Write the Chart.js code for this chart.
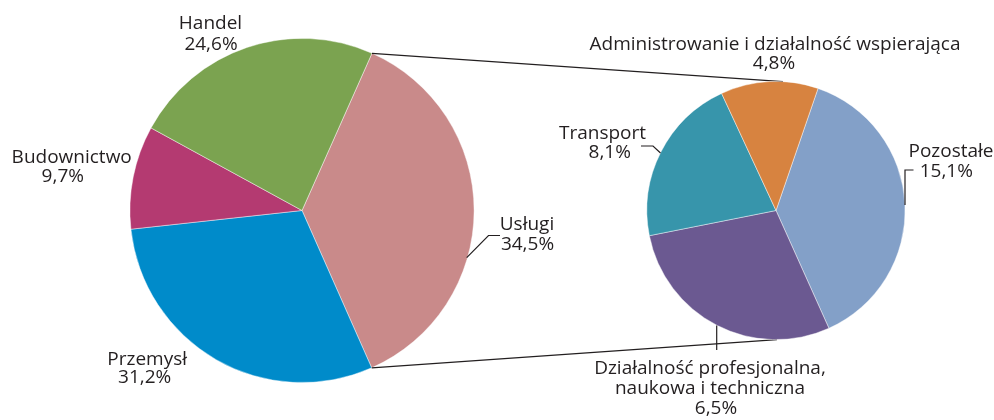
<!DOCTYPE html>
<html>
<head>
<meta charset="utf-8">
<script src="https://cdn.jsdelivr.net/npm/chart.js@4.4.1/dist/chart.umd.min.js"></script>
<style>
  html, body { margin: 0; padding: 0; background: #ffffff; }
  #wrap { position: relative; width: 994px; height: 420px; overflow: hidden; background: #ffffff; }
  #wrap canvas { position: absolute; left: 0; top: 0; }
</style>
</head>
<body>
<div id="wrap">
  <canvas id="mainPie" width="994" height="420"></canvas>
  <canvas id="subPie" width="994" height="420"></canvas>
</div>
<script>
// ---------- DATA ----------
// Main pie (sectors of the economy)
const mainCategories = ['Usługi', 'Przemysł', 'Budownictwo', 'Handel'];
const mainPercentText = ['34,5%', '31,2%', '9,7%', '24,6%'];
// angular shares of the drawn slices
const mainSliceShares = [36.7, 29.9, 9.7, 23.7];

// Breakdown pie (services)
const subCategories = ['Pozostałe', 'Działalność profesjonalna, naukowa i techniczna', 'Transport', 'Administrowanie i działalność wspierająca'];
const subPercentText = ['15,1%', '6,5%', '8,1%', '4,8%'];
// angular shares of the drawn slices
const subSliceShares = [38.0, 28.6, 21.2, 12.2];

// ---------- STYLE / LAYOUT ----------
const mainColors = ['#C98A8A', '#008BCA', '#B43A71', '#7BA350'];
const subColors = ['#83A0C8', '#6B5991', '#3795AB', '#D78340'];
const textColor = '#231F20';
const lineColor = '#231F20';
const fontSpec = '19px "Open Sans", "DejaVu Sans", sans-serif';

// label lines: [category index, kind, dx, dy] relative to the pie centre (baseline, centred)
const mainLabelLayout = [
  [[0, 'name', 225, 19.5], [0, 'pct', 225.5, 39]],
  [[1, 'name', -154.8, 154], [1, 'pct', -157.3, 172.5]],
  [[2, 'name', -230.3, -47.2], [2, 'pct', -239.2, -28.2]],
  [[3, 'name', -91.5, -181.5], [3, 'pct', -91, -160.5]]
];
const mainLeaders = [
  [[164.7, 47.2], [186.5, 25], [198, 25]]
];
const subLabelLayout = [
  [[0, 'name', 175, -53.5], [0, 'pct', 170.3, -33.5]],
  [[1, 'line0', -66, 163.5], [1, 'line1', -66, 183.5], [1, 'pct', -60, 203.5]],
  [[2, 'name', -173.5, -72], [2, 'pct', -166.3, -52.2]],
  [[3, 'name', -1, -160.5], [3, 'pct', -2, -141.5]]
];
const subLeaders = [
  [[137.5, -40.5], [129, -40.5], [129, -5.5]],
  [[-59.3, 115.1], [-59.3, 139.5]],
  [[-135, -64.5], [-123, -64.5], [-115.5, -57.5]]
];

function labelText(cats, pcts, idx, kind) {
  if (kind === 'pct') return pcts[idx];
  if (kind === 'name') return cats[idx];
  const parts = cats[idx].split(', ');
  if (kind === 'line0') return parts[0] + ',';
  return parts.slice(1).join(', ');
}

function drawLabels(chart, cats, pcts, layout, leaders) {
  const arc = chart.getDatasetMeta(0).data[0];
  const cx = arc.x, cy = arc.y;
  const ctx = chart.ctx;
  ctx.save();
  ctx.font = fontSpec;
  ctx.fillStyle = textColor;
  ctx.textAlign = 'center';
  ctx.textBaseline = 'alphabetic';
  layout.forEach(lines => lines.forEach(([i, kind, dx, dy]) => {
    ctx.fillText(labelText(cats, pcts, i, kind), cx + dx, cy + dy);
  }));
  ctx.strokeStyle = lineColor;
  ctx.lineWidth = 1.2;
  leaders.forEach(pts => {
    ctx.beginPath();
    pts.forEach(([dx, dy], k) => {
      if (k === 0) ctx.moveTo(cx + dx, cy + dy); else ctx.lineTo(cx + dx, cy + dy);
    });
    ctx.stroke();
  });
  ctx.restore();
}

function pieConfig(cats, shares, colors, rotation, padding, plugins) {
  return {
    type: 'pie',
    data: {
      labels: cats,
      datasets: [{
        data: shares,
        backgroundColor: colors,
        borderColor: 'rgba(255,255,255,0.55)',
        borderWidth: 0.8,
        hoverOffset: 0
      }]
    },
    options: {
      responsive: false,
      maintainAspectRatio: false,
      animation: false,
      rotation: rotation,
      layout: { padding: padding },
      events: [],
      plugins: { legend: { display: false }, tooltip: { enabled: false } }
    },
    plugins: plugins
  };
}

const mainChart = new Chart(document.getElementById('mainPie'), pieConfig(
  mainCategories, mainSliceShares, mainColors, 24.0,
  { left: 129.5, right: 519.5, top: 38, bottom: 37 },
  [{ id: 'mainLabels', afterDraw: c => drawLabels(c, mainCategories, mainPercentText, mainLabelLayout, mainLeaders) }]
));

// connectors from the exploded slice (Usługi) to the breakdown pie; drawn beneath the breakdown pie
const connectorPlugin = {
  id: 'connectors',
  beforeDatasetsDraw(chart) {
    const src = mainChart.getDatasetMeta(0).data[0];
    const dst = chart.getDatasetMeta(0).data[0];
    const r1 = src.outerRadius, r2 = dst.outerRadius;
    const a0 = src.startAngle, a1 = src.endAngle;
    const topA = -Math.PI / 2 + 3.1 * Math.PI / 180;
    const botA = Math.PI / 2 - 0.4 * Math.PI / 180;
    const ctx = chart.ctx;
    ctx.save();
    ctx.strokeStyle = lineColor;
    ctx.lineWidth = 1.3;
    ctx.beginPath();
    ctx.moveTo(src.x + r1 * Math.cos(a0), src.y + r1 * Math.sin(a0));
    ctx.lineTo(dst.x + r2 * Math.cos(topA), dst.y + r2 * Math.sin(topA));
    ctx.moveTo(src.x + r1 * Math.cos(a1), src.y + r1 * Math.sin(a1));
    ctx.lineTo(dst.x + r2 * Math.cos(botA), dst.y + r2 * Math.sin(botA));
    ctx.stroke();
    ctx.restore();
  }
};

const subChart = new Chart(document.getElementById('subPie'), pieConfig(
  subCategories, subSliceShares, subColors, 19.0,
  { left: 646.5, right: 88.5, top: 81, bottom: 80 },
  [connectorPlugin,
   { id: 'subLabels', afterDraw: c => drawLabels(c, subCategories, subPercentText, subLabelLayout, subLeaders) }]
));
</script>
</body>
</html>
